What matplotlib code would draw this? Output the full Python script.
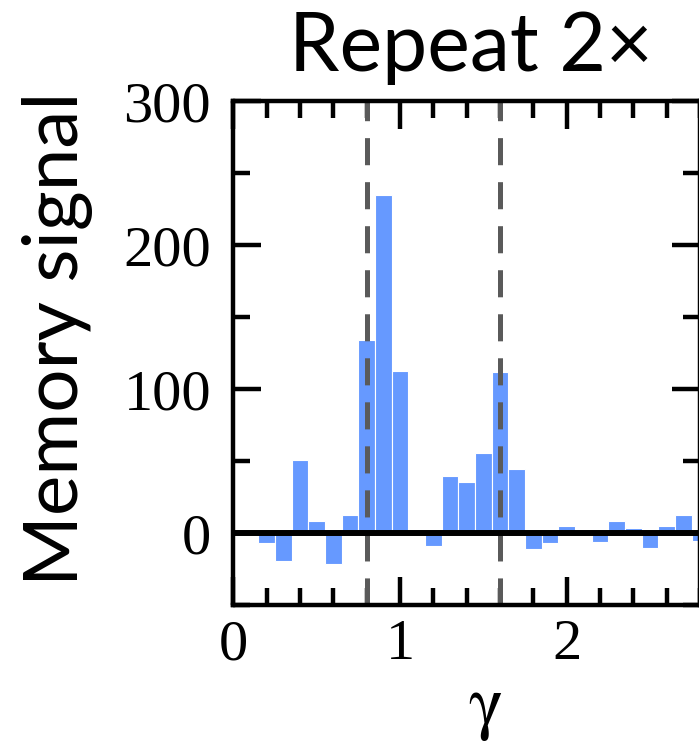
import matplotlib
matplotlib.use('Agg')
import matplotlib.pyplot as plt
import numpy as np

# bin centres (gamma) and memory signal per bin
gamma = [0.1, 0.2, 0.3, 0.4, 0.5, 0.6, 0.7, 0.8, 0.9, 1.0,
         1.1, 1.2, 1.3, 1.4, 1.5, 1.6, 1.7, 1.8, 1.9, 2.0,
         2.1, 2.2, 2.3, 2.4, 2.5, 2.6, 2.7, 2.8]
signal = [0, -7, -19, 51, 8.5, -21, 12.5, 134, 235, 112.5,
          0, -9, 40, 35.5, 56, 112, 45, -11, -6.5, 5,
          0, -6, 8.5, 3.5, -10.5, 5, 12.5, -5]
markers = [0.8, 1.6]

title = 'Repeat 2×'
ylabel = 'Memory signal'
xlabel = r'$\mathrm{\gamma}$'

plt.rcParams['lines.scale_dashes'] = False
plt.rcParams['mathtext.fontset'] = 'stix'

fig = plt.figure(figsize=(6.99, 7.41), dpi=100)
ax = fig.add_axes([0.3338, 0.1831, 0.6676, 0.6802])

ax.bar(gamma, signal, width=0.1, color='#6699ff', edgecolor='white',
       linewidth=0.8, zorder=2)
for m in markers:
    ax.axvline(m, color='#5a5a5a', lw=3.6, dashes=(19.5, 12.2), zorder=3)
ax.axhline(0, color='black', lw=4.3, zorder=4)

ax.set_xlim(0, 2.8)
ax.set_ylim(-50, 300)
ax.set_xticks([0, 1, 2])
ax.set_xticks(np.arange(0, 2.81, 0.2), minor=True)
ax.set_yticks([0, 100, 200, 300])
ax.set_yticks([-50, 50, 150, 250], minor=True)

for s in ax.spines.values():
    s.set_linewidth(3.2)
    s.set_zorder(5)

ax.tick_params(which='both', direction='in', top=True, right=True, width=3.2)
ax.tick_params(which='major', length=20)
ax.tick_params(which='minor', length=12)
ax.tick_params(axis='y', which='major', pad=16)
ax.tick_params(axis='x', which='major', pad=10)
for lab in ax.get_xticklabels() + ax.get_yticklabels():
    lab.set_fontfamily('Liberation Serif')
    lab.set_fontsize(42)

fig.text(0.673, 0.9046, title, ha='center', va='baseline',
         fontsize=58, family='Lato')
fig.text(0.0823, 0.5432, ylabel, ha='center', va='center', rotation=90,
         fontsize=55, family='Lato')
fig.text(0.694, 0.022, xlabel, ha='center', va='baseline',
         fontsize=52)

fig.savefig('out.png', dpi=100)
